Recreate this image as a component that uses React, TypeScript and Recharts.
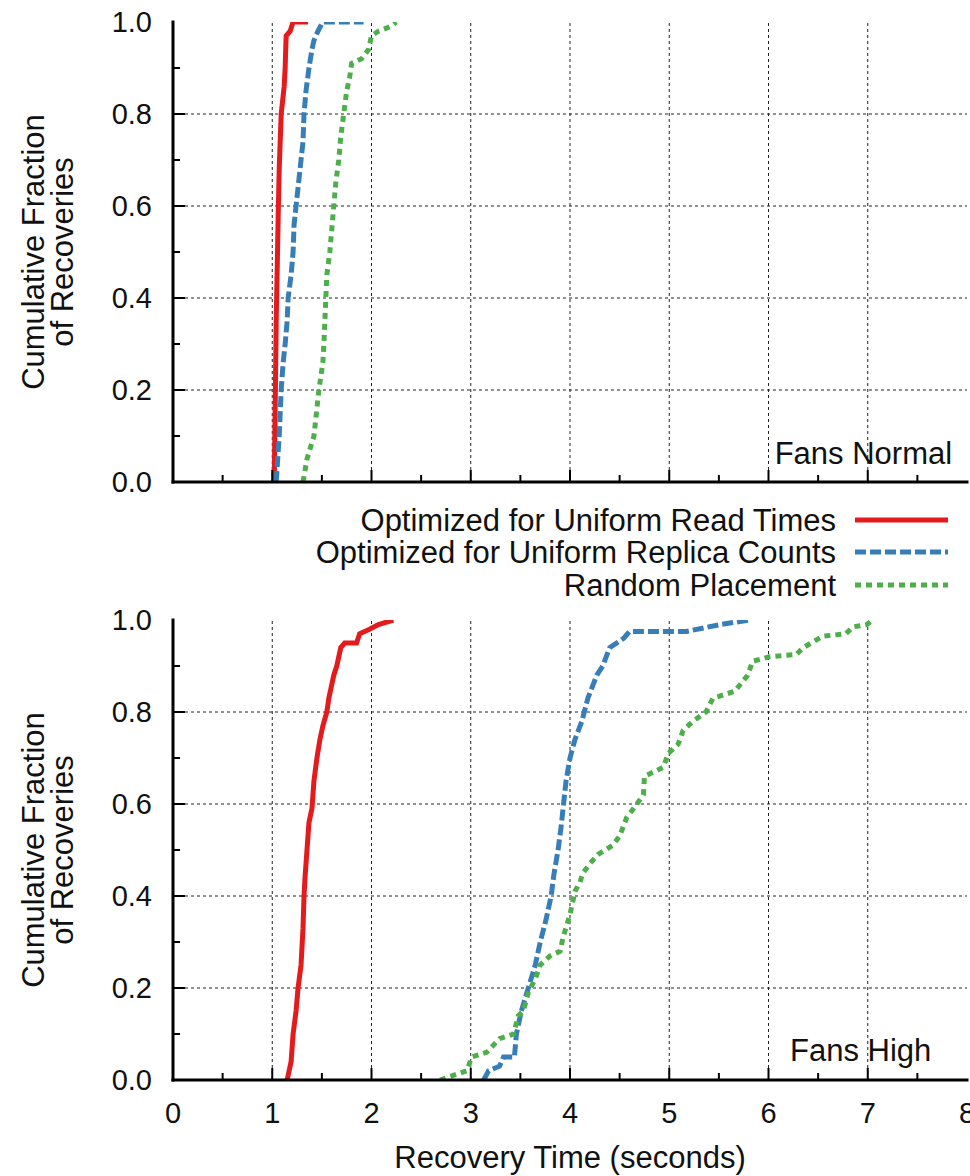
import { LineChart, Line, XAxis, YAxis, ReferenceLine, ReferenceDot } from "recharts";

const FONT = '"Liberation Sans", Arial, Helvetica, sans-serif';

// axis ticks (gnuplot style: major + minor)
const X_TICKS = [0, 0.5, 1, 1.5, 2, 2.5, 3, 3.5, 4, 4.5, 5, 5.5, 6, 6.5, 7, 7.5, 8];
const Y_TICKS = [0, 0.1, 0.2, 0.3, 0.4, 0.5, 0.6, 0.7, 0.8, 0.9, 1];
const X_GRID = [1, 2, 3, 4, 5, 6, 7];
const Y_GRID = [0.2, 0.4, 0.6, 0.8];

const SERIES_NAMES = [
  "Optimized for Uniform Read Times",
  "Optimized for Uniform Replica Counts",
  "Random Placement",
];

type Pt = [number, number];

// Fans Normal
const NORMAL_READ: Pt[] = [
  [1.02, 0], [1.03, 0.17], [1.04, 0.35], [1.06, 0.58], [1.07, 0.68], [1.09, 0.8],
  [1.12, 0.86], [1.13, 0.9], [1.14, 0.97], [1.18, 0.98], [1.21, 1], [1.36, 1],
];
const NORMAL_REPLICA: Pt[] = [
  [1.04, 0], [1.07, 0.1], [1.09, 0.2], [1.11, 0.26], [1.13, 0.3], [1.15, 0.35],
  [1.16, 0.4], [1.19, 0.45], [1.21, 0.5], [1.22, 0.56], [1.24, 0.6], [1.27, 0.66],
  [1.29, 0.7], [1.31, 0.74], [1.32, 0.8], [1.34, 0.85], [1.37, 0.9], [1.4, 0.94],
  [1.42, 0.96], [1.46, 0.98], [1.51, 1], [1.92, 1],
];
const NORMAL_RANDOM: Pt[] = [
  [1.31, 0], [1.35, 0.05], [1.42, 0.1], [1.45, 0.16], [1.47, 0.2], [1.51, 0.26],
  [1.52, 0.3], [1.53, 0.35], [1.54, 0.4], [1.55, 0.45], [1.58, 0.5], [1.6, 0.55],
  [1.62, 0.6], [1.64, 0.65], [1.67, 0.7], [1.69, 0.75], [1.72, 0.8], [1.75, 0.85],
  [1.78, 0.88], [1.8, 0.91], [1.9, 0.92], [1.97, 0.94], [2.0, 0.97], [2.07, 0.98],
  [2.19, 0.99], [2.25, 1],
];

// Fans High
const HIGH_READ: Pt[] = [
  [1.15, 0], [1.19, 0.04], [1.21, 0.1], [1.24, 0.15], [1.26, 0.2], [1.29, 0.25],
  [1.31, 0.33], [1.32, 0.4], [1.33, 0.44], [1.35, 0.5], [1.37, 0.56], [1.4, 0.59],
  [1.42, 0.65], [1.45, 0.7], [1.48, 0.74], [1.51, 0.77], [1.55, 0.8], [1.57, 0.83],
  [1.62, 0.88], [1.65, 0.9], [1.69, 0.94], [1.73, 0.95], [1.85, 0.95], [1.88, 0.97],
  [1.98, 0.98], [2.07, 0.99], [2.22, 1],
];
const HIGH_REPLICA: Pt[] = [
  [3.13, 0], [3.18, 0.02], [3.29, 0.03], [3.33, 0.05], [3.44, 0.05], [3.46, 0.1],
  [3.51, 0.15], [3.58, 0.2], [3.65, 0.25], [3.7, 0.3], [3.76, 0.35], [3.81, 0.4],
  [3.84, 0.45], [3.88, 0.5], [3.91, 0.55], [3.93, 0.59], [3.96, 0.65], [4.0, 0.7],
  [4.05, 0.74], [4.12, 0.78], [4.18, 0.83], [4.27, 0.88], [4.33, 0.9], [4.4, 0.94],
  [4.54, 0.96], [4.6, 0.975], [5.17, 0.975], [5.51, 0.99], [5.81, 1],
];
const HIGH_RANDOM: Pt[] = [
  [2.69, 0], [2.96, 0.02], [3.01, 0.05], [3.16, 0.06], [3.29, 0.09], [3.43, 0.1],
  [3.48, 0.14], [3.53, 0.15], [3.58, 0.19], [3.65, 0.22], [3.7, 0.25], [3.8, 0.27],
  [3.9, 0.28], [3.93, 0.31], [4.0, 0.36], [4.05, 0.41], [4.1, 0.43], [4.13, 0.45],
  [4.2, 0.47], [4.28, 0.49], [4.43, 0.51], [4.5, 0.53], [4.57, 0.57], [4.64, 0.59],
  [4.74, 0.62], [4.75, 0.66], [4.94, 0.68], [4.99, 0.71], [5.09, 0.73], [5.14, 0.76],
  [5.24, 0.78], [5.37, 0.8], [5.44, 0.83], [5.66, 0.845], [5.79, 0.88], [5.84, 0.91],
  [6.01, 0.92], [6.28, 0.925], [6.35, 0.94], [6.55, 0.965], [6.78, 0.97], [6.85, 0.985],
  [6.99, 0.99], [7.05, 1],
];

const STYLES = [
  { color: "#e41a1c", dash: undefined as string | undefined },
  { color: "#377eb8", dash: "11 4" },
  { color: "#4daf4a", dash: "6 5" },
];

const TEXT_SIZE = 31;
const TICK_SIZE = 29;

const toRows = (pts: Pt[]) => pts.map(([x, y]) => ({ x, y }));
const isMajorX = (v: number) => Math.abs(v - Math.round(v)) < 1e-6;
const isMajorY = (v: number) => Math.abs(v * 5 - Math.round(v * 5)) < 1e-6;

// inward tick marks, labels drawn outside
function xTick(side: "top" | "bottom", withLabel: boolean) {
  return (props: any) => {
    const { x, y, payload } = props;
    const v = payload.value as number;
    const len = isMajorX(v) ? 12 : 7;
    const dir = side === "bottom" ? -1 : 1;
    const edge = v <= 0 || v >= 8;
    return (
      <g>
        {!edge && <line x1={x} x2={x} y1={y} y2={y + dir * len} stroke="#000" strokeWidth={2} />}
        {withLabel && isMajorX(v) && (
          <text x={x} y={y + 33} textAnchor="middle" dominantBaseline="central"
            fontFamily={FONT} fontSize={TICK_SIZE} fill="#111">{v}</text>
        )}
      </g>
    );
  };
}

function yTick(side: "left" | "right") {
  return (props: any) => {
    const { x, y, payload } = props;
    const v = payload.value as number;
    const major = isMajorY(v);
    const len = major ? 12 : 7;
    const dir = side === "left" ? 1 : -1;
    const edge = v <= 0 || v >= 1;
    return (
      <g>
        {!edge && <line x1={x} x2={x + dir * len} y1={y} y2={y} stroke="#000" strokeWidth={2} />}
        {side === "left" && major && (
          <text x={x - 21} y={y} textAnchor="end" dominantBaseline="central"
            fontFamily={FONT} fontSize={TICK_SIZE} fill="#111">{v.toFixed(1)}</text>
        )}
      </g>
    );
  };
}

function YTitle(props: any) {
  const vb = props.viewBox;
  const cy = vb.y + vb.height / 2;
  const lines = ["Cumulative Fraction", "of Recoveries"];
  const xs = [33, 62];
  return (
    <g>
      {lines.map((t, i) => (
        <text key={t} x={xs[i]} y={cy} transform={`rotate(-90 ${xs[i]} ${cy})`}
          textAnchor="middle" dominantBaseline="central" fontFamily={FONT} fontSize={TEXT_SIZE} fill="#111">
          {t}
        </text>
      ))}
    </g>
  );
}

function XTitle(props: any) {
  const vb = props.viewBox;
  return (
    <text x={vb.x + vb.width / 2} y={vb.y + 77} textAnchor="middle" dominantBaseline="central"
      fontFamily={FONT} fontSize={TEXT_SIZE} fill="#111">
      Recovery Time (seconds)
    </text>
  );
}

const axisLine = { stroke: "#000", strokeWidth: 3, strokeLinecap: "square" as const };

interface PanelProps {
  series: Pt[][];
  tag: string;
  tagAt: Pt;
  height: number;
  marginTop: number;
  xAxisHeight: number;
  showX: boolean;
}

function Panel({ series, tag, tagAt, height, marginTop, xAxisHeight, showX }: PanelProps) {
  return (
    <LineChart width={970} height={height} margin={{ top: marginTop, right: 3, bottom: 0, left: 0 }}>
      <XAxis type="number" dataKey="x" domain={[0, 8]} ticks={X_TICKS} interval={0} allowDataOverflow
        height={xAxisHeight} tickSize={0} tickMargin={0} tickLine={false} axisLine={axisLine}
        tick={xTick("bottom", showX)}
        label={showX ? { content: <XTitle /> } : undefined} />
      <XAxis xAxisId="top" orientation="top" type="number" domain={[0, 8]} ticks={X_TICKS} interval={0}
        allowDataOverflow height={0} tickSize={0} tickMargin={0} tickLine={false} axisLine={axisLine}
        tick={xTick("top", false)} />
      <YAxis type="number" domain={[0, 1]} ticks={Y_TICKS} interval={0} allowDataOverflow width={173}
        tickSize={0} tickMargin={0} tickLine={false} axisLine={axisLine} tick={yTick("left")}
        label={{ content: <YTitle /> }} />
      <YAxis yAxisId="right" orientation="right" type="number" domain={[0, 1]} ticks={Y_TICKS}
        interval={0} allowDataOverflow width={0} tickSize={0} tickMargin={0} tickLine={false}
        axisLine={axisLine} tick={yTick("right")} />

      {X_GRID.map((v) => (
        <ReferenceLine key={`gx${v}`} x={v} stroke="#222" strokeWidth={1} strokeDasharray="3 3" />
      ))}
      {Y_GRID.map((v) => (
        <ReferenceLine key={`gy${v}`} y={v} stroke="#222" strokeWidth={1} strokeDasharray="3 3" />
      ))}

      <ReferenceDot x={tagAt[0]} y={tagAt[1]} r={0} stroke="none" fill="none"
        label={{
          content: (p: any) => (
            <text x={p.viewBox.x} y={p.viewBox.y} textAnchor="end" dominantBaseline="central"
              fontFamily={FONT} fontSize={TEXT_SIZE} fill="#111">{tag}</text>
          ),
        }} />

      {series.map((pts, i) => (
        <Line key={SERIES_NAMES[i]} name={SERIES_NAMES[i]} data={toRows(pts)} dataKey="y"
          type="linear" stroke={STYLES[i].color} strokeWidth={5} strokeDasharray={STYLES[i].dash}
          strokeLinecap="butt" dot={false} activeDot={false} isAnimationActive={false} />
      ))}
    </LineChart>
  );
}

function LegendBlock() {
  const rowsY = [30, 62, 95];
  return (
    <svg width={970} height={120} style={{ position: "absolute", left: 0, top: 490 }}>
      {SERIES_NAMES.map((name, i) => (
        <g key={name}>
          <text x={836} y={rowsY[i]} textAnchor="end" dominantBaseline="central"
            fontFamily={FONT} fontSize={TEXT_SIZE} fill="#111">{name}</text>
          <line x1={855} x2={948} y1={rowsY[i]} y2={rowsY[i]} stroke={STYLES[i].color}
            strokeWidth={5} strokeDasharray={STYLES[i].dash} />
        </g>
      ))}
    </svg>
  );
}

export default function App() {
  return (
    <div style={{ position: "absolute", left: 0, top: 0, width: 970, height: 1176, background: "#fff", overflow: "hidden" }}>
      <div style={{ position: "absolute", left: 0, top: 0 }}>
        <Panel series={[NORMAL_READ, NORMAL_REPLICA, NORMAL_RANDOM]} tag="Fans Normal" tagAt={[7.85, 0.063]}
          height={500} marginTop={22} xAxisHeight={18} showX={false} />
      </div>
      <LegendBlock />
      <div style={{ position: "absolute", left: 0, top: 600 }}>
        <Panel series={[HIGH_READ, HIGH_REPLICA, HIGH_RANDOM]} tag="Fans High" tagAt={[7.64, 0.065]}
          height={576} marginTop={20} xAxisHeight={96} showX />
      </div>
    </div>
  );
}
